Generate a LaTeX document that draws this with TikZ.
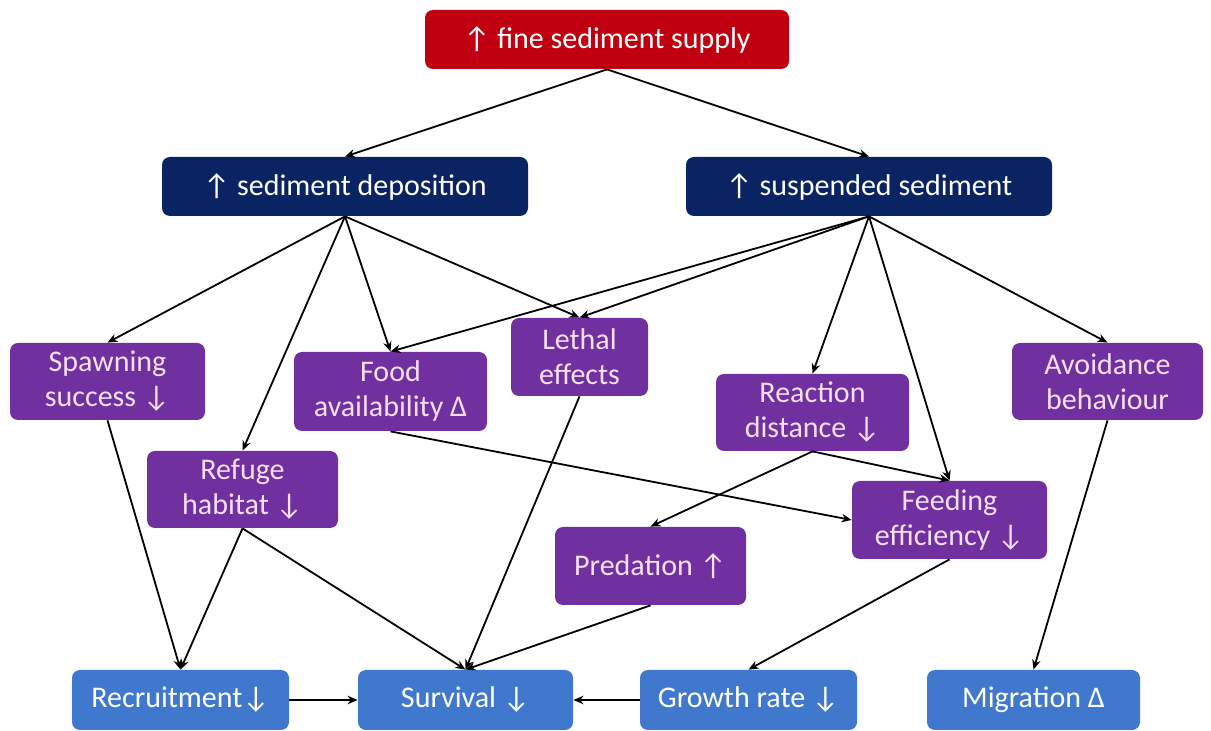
\documentclass[tikz,border=0pt]{standalone}
\usepackage{fontspec}
\setmainfont{Carlito}
\usetikzlibrary{arrows.meta}
\definecolor{topred}{HTML}{C00010}
\definecolor{navy}{HTML}{0A2463}
\definecolor{purp}{HTML}{7030A0}
\definecolor{bblue}{HTML}{3F78CC}
\definecolor{ptext}{HTML}{F8E0F4}
\tikzset{
  box/.style={rounded corners=4pt, draw=none, align=center, inner sep=1pt,
    font=\fontsize{15}{17.5}\selectfont},
  redbox/.style={box, fill=topred, text=white, minimum width=182pt, minimum height=29.5pt},
  navybox/.style={box, fill=navy, text=white, minimum width=183pt, minimum height=29.5pt},
  pbox/.style={box, fill=purp, text=ptext, minimum height=38.5pt},
  bbox/.style={box, fill=bblue, text=white, minimum width=108.5pt, minimum height=30pt},
  conn/.style={-{Stealth[length=5pt,width=4.2pt]}, line width=0.9pt, black},
}
\begin{document}
\begin{tikzpicture}[x=0.5pt,y=-0.5pt]
\useasboundingbox (0,0) rectangle (1211,731);
\fill[white] (0,0) rectangle (1211,731);
% top levels
\node[redbox] (fine) at (607,39.5) {↑ fine sediment supply};
\node[navybox] (dep) at (345,186.5) {↑ sediment deposition};
\node[navybox] (susp) at (869,186.5) {↑ suspended sediment};
% middle (purple)
\node[pbox, minimum width=97.5pt] (spawn) at (107.5,381.5) {Spawning\\success ↓};
\node[pbox, minimum width=96.5pt, minimum height=39.5pt] (food) at (390.5,391.5) {Food\\availability Δ};
\node[pbox, minimum width=68.5pt, minimum height=39pt] (lethal) at (579.5,357) {Lethal\\effects};
\node[pbox, minimum width=96.5pt] (react) at (812.5,412.5) {Reaction\\distance ↓};
\node[pbox, minimum width=95.5pt] (avoid) at (1107.5,381.5) {Avoidance\\behaviour};
\node[pbox, minimum width=95.5pt] (refuge) at (242.5,489.5) {Refuge\\habitat ↓};
\node[pbox, minimum width=97.5pt, minimum height=39pt] (feed) at (949.5,520) {Feeding\\efficiency ↓};
\node[pbox, minimum width=95.5pt, minimum height=39pt] (pred) at (650.5,566) {Predation ↑};
% bottom (blue)
\node[bbox] (recr) at (180.5,700) {Recruitment↓};
\node[bbox, minimum width=107.5pt] (surv) at (465.5,700) {Survival ↓};
\node[bbox] (growth) at (748.5,700) {Growth rate ↓};
\node[bbox, minimum width=106.5pt] (migr) at (1033.5,700) {Migration Δ};
% connectors
\draw[conn] (fine.south) -- (dep.north);
\draw[conn] (fine.south) -- (susp.north);
\draw[conn] (dep.south) -- (spawn.north);
\draw[conn] (dep.south) -- (refuge.north);
\draw[conn] (dep.south) -- (food.north);
\draw[conn] (dep.south) -- (lethal.north);
\draw[conn] (susp.south) -- (food.north);
\draw[conn] (susp.south) -- (lethal.north);
\draw[conn] (susp.south) -- (react.north);
\draw[conn] (susp.south) -- (feed.north);
\draw[conn] (susp.south) -- (avoid.north);
\draw[conn] (food.south) -- (feed.west);
\draw[conn] (react.south) -- (feed.north);
\draw[conn] (react.south) -- (pred.north);
\draw[conn] (spawn.south) -- (recr.north);
\draw[conn] (refuge.south) -- (recr.north);
\draw[conn] (refuge.south) -- (surv.north);
\draw[conn] (lethal.south) -- (surv.north);
\draw[conn] (pred.south) -- (surv.north);
\draw[conn] (feed.south) -- (growth.north);
\draw[conn] (avoid.south) -- (migr.north);
\draw[conn] (recr.east) -- (surv.west);
\draw[conn] (growth.west) -- (surv.east);
\end{tikzpicture}
\end{document}
